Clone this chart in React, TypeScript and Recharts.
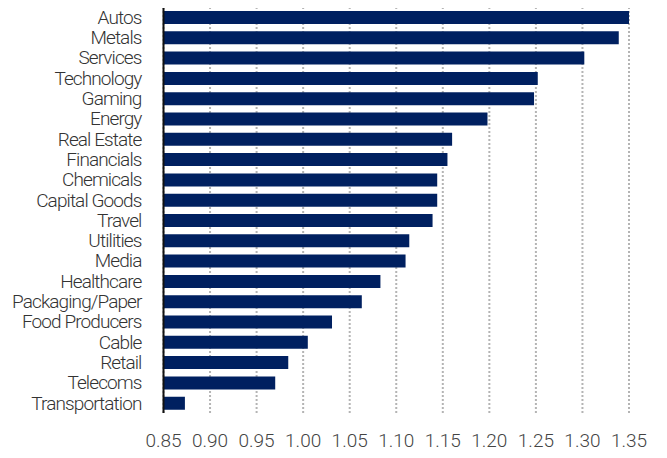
import { Bar, BarChart, CartesianGrid, XAxis, YAxis } from "recharts";

const sectors = [
  "Autos",
  "Metals",
  "Services",
  "Technology",
  "Gaming",
  "Energy",
  "Real Estate",
  "Financials",
  "Chemicals",
  "Capital Goods",
  "Travel",
  "Utilities",
  "Media",
  "Healthcare",
  "Packaging/Paper",
  "Food Producers",
  "Cable",
  "Retail",
  "Telecoms",
  "Transportation",
];

const ratios = [
  1.35, 1.339, 1.302, 1.252, 1.248, 1.198, 1.16, 1.155, 1.144, 1.144, 1.139,
  1.114, 1.11, 1.083, 1.063, 1.031, 1.005, 0.984, 0.97, 0.873,
];

const xTicks = [0.85, 0.9, 0.95, 1.0, 1.05, 1.1, 1.15, 1.2, 1.25, 1.3, 1.35];

const data = sectors.map((name, i) => ({ name, value: ratios[i] }));

const FONT = "Roboto, 'Noto Sans', sans-serif";

export default function App() {
  return (
    <div style={{ width: 667, height: 458, margin: -8, background: "#fff" }}>
      <BarChart
        width={667}
        height={458}
        data={data}
        layout="vertical"
        margin={{ top: 7, right: 38, bottom: 0, left: 0 }}
      >
        <CartesianGrid
          horizontal={false}
          stroke="#b4b4b4"
          strokeWidth={2}
          strokeDasharray="2 2"
        />
        <XAxis
          type="number"
          domain={[0.85, 1.35]}
          ticks={xTicks}
          allowDataOverflow
          axisLine={false}
          tickLine={false}
          tickSize={0}
          tickMargin={21}
          height={45}
          interval={0}
          tickFormatter={(v: number) => v.toFixed(2)}
          tick={{ fill: "#444", fontSize: 19, fontFamily: FONT, fontWeight: 300 }}
        />
        <YAxis
          type="category"
          dataKey="name"
          width={163.5}
          axisLine={{ stroke: "#111", strokeWidth: 2 }}
          tickLine={false}
          tickSize={0}
          tickMargin={22}
          interval={0}
          tick={{
            fill: "#333",
            fontSize: 19,
            fontFamily: FONT,
            fontWeight: 300,
            letterSpacing: -0.9,
          }}
        />
        <Bar dataKey="value" fill="#002060" barSize={13} isAnimationActive={false} />
      </BarChart>
    </div>
  );
}
